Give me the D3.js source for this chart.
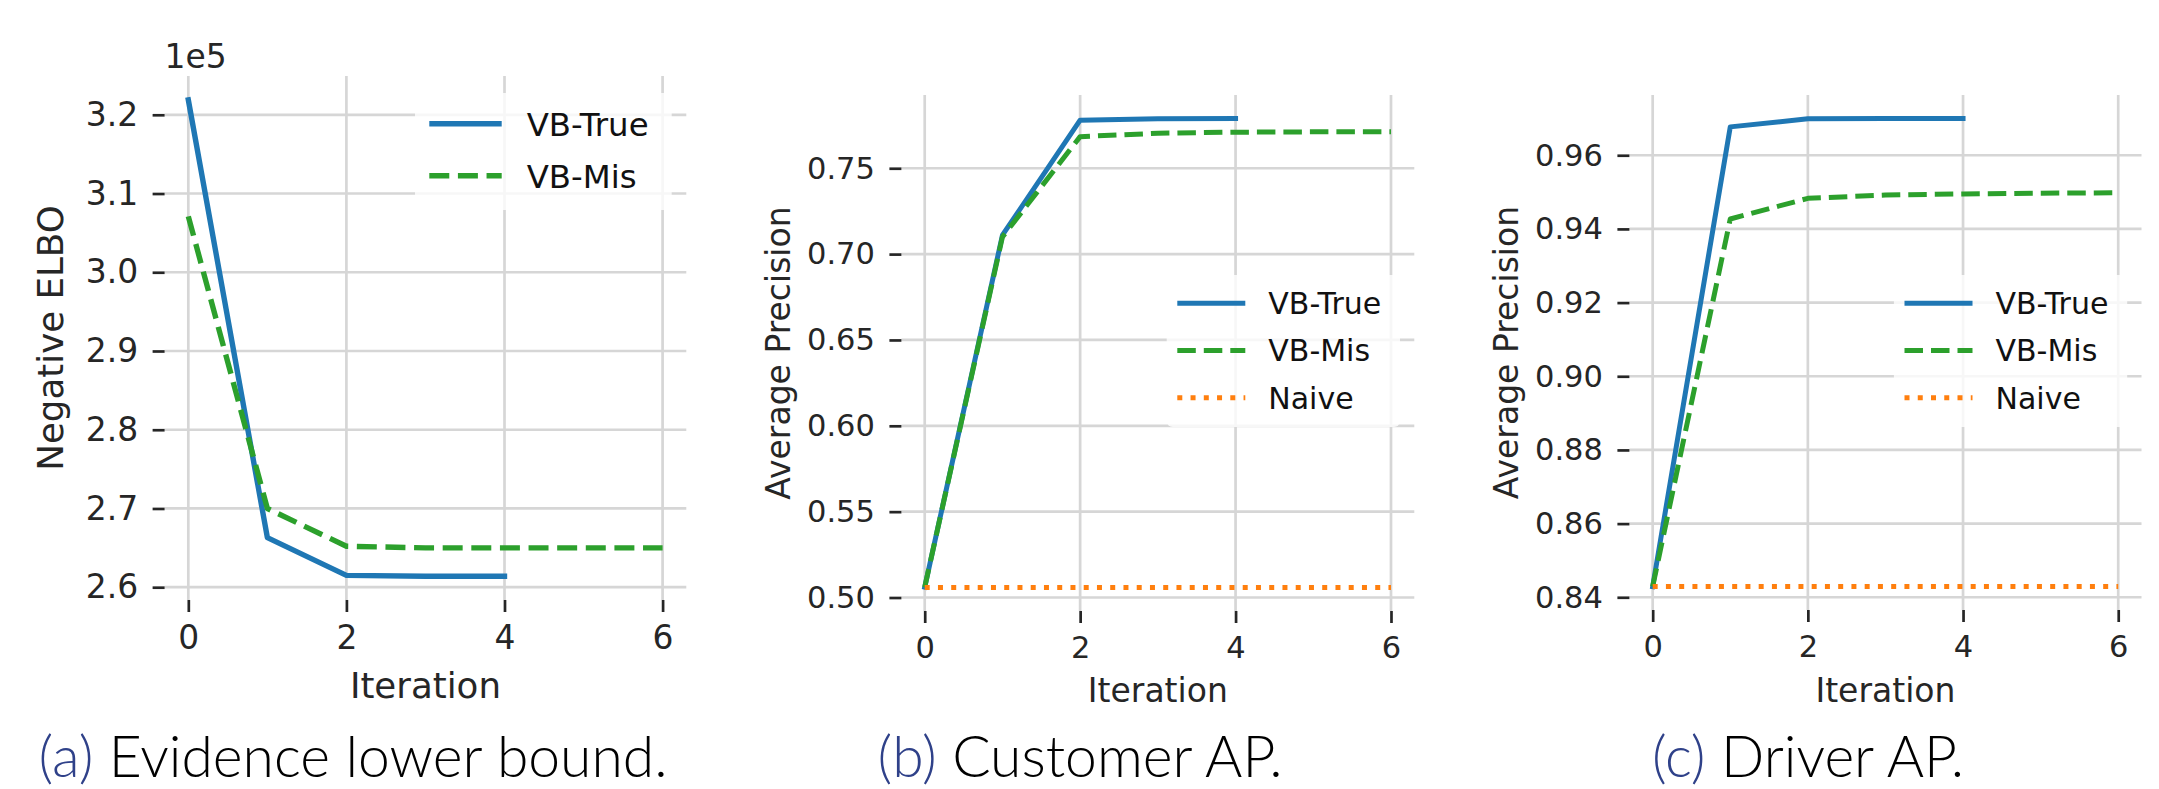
<!DOCTYPE html>
<html>
<head>
<meta charset="utf-8">
<script src="https://cdn.jsdelivr.net/npm/d3@7/dist/d3.min.js"></script>
<style>
  body { margin: 0; background: #fff; }
  svg { display: block; }
</style>
</head>
<body>
<div id="chart"></div>
<script>
// iterations
var iterTrue = [0, 1, 2, 3, 4];
var iterAll = [0, 1, 2, 3, 4, 5, 6];

// (a) negative ELBO
var elboTrue = [321900, 266300, 261500, 261400, 261400];
var elboMis = [307100, 270000, 265200, 265000, 265000, 265000, 265000];

// (b) customer average precision
var custTrue = [0.506, 0.711, 0.778, 0.7788, 0.779];
var custMis = [0.506, 0.710, 0.7684, 0.7704, 0.771, 0.7712, 0.7713];
var custNaive = [0.5058, 0.5058, 0.5058, 0.5058, 0.5058, 0.5058, 0.5058];

// (c) driver average precision
var drvTrue = [0.8429, 0.9677, 0.9699, 0.970, 0.970];
var drvMis = [0.8429, 0.9427, 0.9483, 0.9492, 0.9495, 0.9497, 0.9498];
var drvNaive = [0.8429, 0.8429, 0.8429, 0.8429, 0.8429, 0.8429, 0.8429];

// ticks and labels
var xTicks = [0, 2, 4, 6];
var elboTicks = [260000, 270000, 280000, 290000, 300000, 310000, 320000];
var custTicks = [0.50, 0.55, 0.60, 0.65, 0.70, 0.75];
var drvTicks = [0.84, 0.86, 0.88, 0.90, 0.92, 0.94, 0.96];
var seriesNames = ['VB-True', 'VB-Mis', 'Naive'];
var seriesColors = ['#1f77b4', '#2ca02c', '#ff7f0e'];
var captionTags = ['(a)', '(b)', '(c)'];
var captionTexts = ['Evidence lower bound.', 'Customer AP.', 'Driver AP.'];

var W = 2159, H = 789;
var ink = '#262626';
var gridColor = '#d6d6d6';

var svg = d3.select('#chart').append('svg')
  .attr('width', W)
  .attr('height', H)
  .style('background', '#fff');

var panels = [
  {
    box: {left: 164.6, right: 686.3, top: 76, bottom: 600},
    k: 1.08,
    yTicks: elboTicks,
    fmt: function(d) { return d3.format('.1f')(d / 1e5); },
    offsetText: '1e5',
    series: [
      {x: iterTrue, y: elboTrue, s: 0},
      {x: iterAll, y: elboMis, s: 1}
    ],
    ylabel: 'Negative ELBO', ylabelX: 63.3, xlabelY: 698.3,
    legend: {x0: 415, x1: 671.7, y0: 93, y1: 210, rows: [123.7, 175.7], line: [14.3, 86.7], text: 111.7},
    capX: 353
  },
  {
    box: {left: 901.4, right: 1414.3, top: 95, bottom: 611},
    k: 1,
    yTicks: custTicks,
    fmt: d3.format('.2f'),
    series: [
      {x: iterTrue, y: custTrue, s: 0},
      {x: iterAll, y: custMis, s: 1},
      {x: iterAll, y: custNaive, s: 2}
    ],
    ylabel: 'Average Precision', ylabelX: 790, xlabelY: 701.7,
    legend: {x0: 1166.7, x1: 1400, y0: 275, y1: 427, rows: [303.3, 350.5, 397.7], line: [10.6, 78.6], text: 101.6},
    capX: 1080
  },
  {
    box: {left: 1629.4, right: 2141.5, top: 95, bottom: 610},
    k: 1,
    yTicks: drvTicks,
    fmt: d3.format('.2f'),
    series: [
      {x: iterTrue, y: drvTrue, s: 0},
      {x: iterAll, y: drvMis, s: 1},
      {x: iterAll, y: drvNaive, s: 2}
    ],
    ylabel: 'Average Precision', ylabelX: 1518, xlabelY: 701.7,
    legend: {x0: 1893.9, x1: 2127.2, y0: 275, y1: 427, rows: [303.3, 350.5, 397.7], line: [10.6, 78.6], text: 101.6},
    capX: 1808
  }
];

function dashFor(s, lw) {
  if (s == 1) return (3.7 * lw) + ' ' + (1.6 * lw);
  if (s == 2) return lw + ' ' + (1.65 * lw);
  return null;
}

panels.forEach(function(p, pi) {
  var b = p.box;
  var lw = 5 * p.k;
  var tickFs = 30.5 * p.k, labelFs = 33 * p.k, legFs = 30 * p.k;

  // 5% margins like matplotlib
  var allY = [];
  p.series.forEach(function(s) { allY = allY.concat(s.y); });
  var ext = d3.extent(allY), pad = (ext[1] - ext[0]) * 0.05;

  var x = d3.scaleLinear().domain([-0.3, 6.3]).range([b.left, b.right]);
  var y = d3.scaleLinear().domain([ext[0] - pad, ext[1] + pad]).range([b.bottom, b.top]);

  var g = svg.append('g');

  // grid
  g.selectAll('.hgrid').data(p.yTicks).enter().append('line')
    .attr('x1', b.left).attr('x2', b.right)
    .attr('y1', function(d) { return y(d); })
    .attr('y2', function(d) { return y(d); })
    .style('stroke', gridColor).style('stroke-width', 2.7);
  g.selectAll('.vgrid').data(xTicks).enter().append('line')
    .attr('y1', b.top).attr('y2', b.bottom)
    .attr('x1', function(d) { return x(d); })
    .attr('x2', function(d) { return x(d); })
    .style('stroke', gridColor).style('stroke-width', 2.7);

  // axes (no spines)
  var yAxis = g.append('g')
    .attr('transform', 'translate(' + b.left + ',0)')
    .call(d3.axisLeft(y).tickValues(p.yTicks).tickFormat(p.fmt).tickSize(12).tickPadding(14.5));
  var xAxis = g.append('g')
    .attr('transform', 'translate(0,' + b.bottom + ')')
    .call(d3.axisBottom(x).tickValues(xTicks).tickFormat(d3.format('d')).tickSize(12).tickPadding(pi == 0 ? 14 : 13));
  [yAxis, xAxis].forEach(function(a) {
    a.select('.domain').remove();
    a.style('color', ink)
      .attr('font-family', 'DejaVu Sans')
      .attr('font-size', tickFs);
    a.selectAll('.tick line').style('stroke-width', 2.7);
  });

  // lines
  var line = d3.line()
    .x(function(d) { return x(d[0]); })
    .y(function(d) { return y(d[1]); });
  p.series.forEach(function(s) {
    g.append('path')
      .datum(d3.zip(s.x, s.y))
      .attr('d', line)
      .style('fill', 'none')
      .style('stroke', seriesColors[s.s])
      .style('stroke-width', lw)
      .style('stroke-linejoin', 'round')
      .style('stroke-linecap', s.s == 0 ? 'square' : 'butt')
      .style('stroke-dasharray', dashFor(s.s, lw));
  });

  // axis labels
  g.append('text')
    .attr('x', (b.left + b.right) / 2)
    .attr('y', p.xlabelY)
    .attr('text-anchor', 'middle')
    .style('font-family', 'DejaVu Sans')
    .style('font-size', labelFs + 'px')
    .style('fill', ink)
    .text('Iteration');
  g.append('text')
    .attr('transform', 'translate(' + p.ylabelX + ',' + ((b.top + b.bottom) / 2) + ') rotate(-90)')
    .attr('text-anchor', 'middle')
    .style('font-family', 'DejaVu Sans')
    .style('font-size', labelFs + 'px')
    .style('fill', ink)
    .text(p.ylabel);

  if (p.offsetText) {
    g.append('text')
      .attr('x', b.left)
      .attr('y', 68)
      .style('font-family', 'DejaVu Sans')
      .style('font-size', tickFs + 'px')
      .style('fill', ink)
      .text(p.offsetText);
  }

  // legend
  var L = p.legend;
  g.append('rect')
    .attr('x', L.x0).attr('y', L.y0)
    .attr('width', L.x1 - L.x0).attr('height', L.y1 - L.y0)
    .attr('rx', 6)
    .style('fill', '#fff').style('fill-opacity', 0.8);
  p.series.forEach(function(s, i) {
    g.append('line')
      .attr('x1', L.x0 + L.line[0]).attr('x2', L.x0 + L.line[1])
      .attr('y1', L.rows[i]).attr('y2', L.rows[i])
      .style('stroke', seriesColors[s.s])
      .style('stroke-width', lw)
      .style('stroke-dasharray', dashFor(s.s, lw));
    g.append('text')
      .attr('x', L.x0 + L.text)
      .attr('y', L.rows[i] + 0.3645 * legFs)
      .style('font-family', 'DejaVu Sans')
      .style('font-size', legFs + 'px')
      .style('fill', '#111')
      .text(seriesNames[s.s]);
  });

  // caption
  var cap = svg.append('text')
    .attr('x', p.capX)
    .attr('y', 777)
    .attr('text-anchor', 'middle')
    .style('font-family', 'Lato')
    .style('font-weight', 300)
    .style('font-size', '57px');
  cap.append('tspan').style('fill', '#2f4189').text(captionTags[pi]);
  cap.append('tspan').style('fill', '#000').text(' ' + captionTexts[pi]);
});
</script>
</body>
</html>
